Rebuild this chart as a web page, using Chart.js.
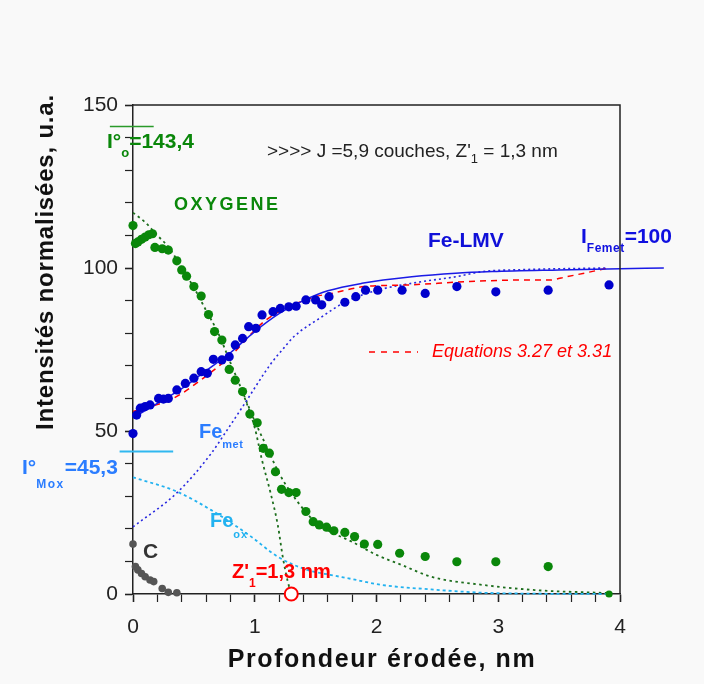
<!DOCTYPE html>
<html>
<head>
<meta charset="utf-8">
<script src="https://cdn.jsdelivr.net/npm/chart.js@4.4.0/dist/chart.umd.min.js"></script>
<style>
  html, body { margin: 0; padding: 0; background: #f9f9f9; }
  #c { display: block; }
</style>
</head>
<body>
<canvas id="c" width="704" height="684"></canvas>
<script>
// --- mesures (points) ---
const oxX = [0, 0.02, 0.04, 0.07, 0.10, 0.13, 0.16, 0.18, 0.24, 0.29, 0.36, 0.40, 0.44, 0.50, 0.56, 0.62, 0.67, 0.73, 0.79, 0.84, 0.90, 0.96, 1.02, 1.07, 1.12, 1.17, 1.22, 1.28, 1.34, 1.42, 1.48, 1.53, 1.59, 1.65, 1.74, 1.82, 1.90, 2.01, 2.19, 2.40, 2.66, 2.98, 3.41, 3.91];
const oxY = [113, 107.5, 108, 108.8, 109.5, 110.2, 110.5, 106.3, 105.9, 105.5, 102.2, 99.4, 97.5, 94.3, 91.4, 85.7, 80.5, 77.9, 68.9, 65.6, 62.1, 55.2, 52.5, 44.7, 43.2, 37.5, 32.1, 31.1, 31.1, 25.3, 22.2, 21.2, 20.5, 19.4, 18.9, 17.6, 15.3, 15.2, 12.5, 11.5, 9.9, 9.9, 8.4, 0];

const feX = [0, 0.03, 0.06, 0.10, 0.14, 0.21, 0.25, 0.29, 0.36, 0.43, 0.50, 0.56, 0.61, 0.66, 0.73, 0.79, 0.84, 0.90, 0.95, 1.01, 1.06, 1.15, 1.21, 1.28, 1.34, 1.42, 1.50, 1.55, 1.61, 1.74, 1.83, 1.91, 2.01, 2.21, 2.40, 2.66, 2.98, 3.41, 3.91];
const feY = [49.2, 54.9, 57, 57.5, 58, 60, 59.8, 60, 62.6, 64.6, 66.2, 68.2, 67.7, 72, 71.8, 72.8, 76.4, 78.4, 82, 81.5, 85.6, 86.6, 87.6, 88.1, 88.3, 90.2, 90.2, 88.7, 91.2, 89.5, 91.2, 93.2, 93.2, 93.2, 92.2, 94.3, 92.7, 93.2, 94.8];

const cX = [0, 0.02, 0.04, 0.07, 0.10, 0.14, 0.17, 0.24, 0.29, 0.36];
const cY = [15.3, 8.4, 7.4, 6.3, 5.3, 4.3, 3.8, 1.7, 0.5, 0.4];

// --- courbes calculees ---
const oxModelX = [0, 0.1, 0.2, 0.3, 0.4, 0.5, 0.6, 0.7, 0.8, 0.9, 1.0, 1.1, 1.2, 1.3, 1.4, 1.5, 1.6, 1.8, 2.0, 2.2, 2.45, 2.87, 3.3, 3.9];
const oxModelY = [117, 114, 110, 106, 100, 94, 87, 80, 71, 62, 53, 45, 37, 31, 26, 22, 19.5, 16, 12, 9, 5.3, 2.8, 1.2, 0.3];
const oxSteepX = [0.9, 1.0, 1.06, 1.13, 1.19, 1.23, 1.27, 1.3];
const oxSteepY = [62, 51, 41, 31, 21, 11.4, 4, 0];

const feOxX = [0, 0.36, 0.64, 0.97, 1.19, 1.43, 1.63, 1.77, 2.04, 2.45, 2.87, 3.3, 3.9];
const feOxY = [35.8, 31.4, 25.8, 17.6, 11.4, 7.4, 5.8, 4.8, 2.8, 1.4, 0.4, 0.1, 0];

const feMetX = [0, 0.36, 0.64, 0.75, 0.91, 1.13, 1.24, 1.32, 1.55, 1.74, 2.01, 2.37, 2.65, 2.87, 3.2, 3.9];
const feMetY = [20.6, 31, 43, 49, 58, 70.5, 75.5, 78.9, 85, 89.5, 93.2, 95.8, 97.3, 98.9, 99.5, 100];

const feModelX = [0, 0.2, 0.4, 0.6, 0.8, 1.0, 1.2, 1.4, 1.6, 1.88, 2.29, 2.65, 2.95, 3.5, 3.9, 4.36];
const feModelY = [54, 58.5, 63, 68.5, 74, 80.5, 86, 90, 93, 95.3, 97.3, 98.4, 98.9, 99.4, 99.7, 100];

const eqX = [0, 0.33, 0.57, 0.8, 1.09, 1.48, 1.63, 1.9, 2.26, 2.73, 3.17, 3.42, 3.56, 3.83, 3.9];
const eqY = [56, 60, 66, 73, 84, 91, 92.2, 94.3, 94.8, 95.8, 96.3, 96.3, 97.3, 99.4, 100];

// niveaux de reference
const i0OxX = [-0.19, 0.17];
const i0OxY = [143.4, 143.4];
const i0MoxX = [-0.11, 0.33];
const i0MoxY = [43.7, 43.7];
const z1X = [1.3];
const z1Y = [0];

const xTicks = [0, 1, 2, 3, 4];
const yTicks = [0, 50, 100, 150];

const pts = (xs, ys) => xs.map((x, i) => ({ x: x, y: ys[i] }));

const GREEN = '#0a870a';
const BLUE = '#0000cc';
const LIGHTBLUE = '#2b7dff';
const CYAN = '#22b2f0';
const RED = '#ff0000';
const FONT = '"Liberation Sans", Arial, sans-serif';

function rich(ctx, x, y, parts) {
    let cx = x;
    for (const p of parts) {
        ctx.font = p.f;
        ctx.fillStyle = p.c;
        ctx.letterSpacing = p.ls || '0px';
        ctx.fillText(p.t, cx, y + (p.dy || 0));
        cx += ctx.measureText(p.t).width;
    }
    ctx.letterSpacing = '0px';
}

const annotations = {
    id: 'annotations',
    afterDraw(chart) {
        const ctx = chart.ctx;
        const a = chart.chartArea;
        ctx.save();
        // cadre haut / droite
        ctx.strokeStyle = '#222';
        ctx.lineWidth = 1.5;
        ctx.beginPath();
        ctx.moveTo(a.left, a.top);
        ctx.lineTo(a.right, a.top);
        ctx.lineTo(a.right, a.bottom);
        ctx.stroke();

        ctx.textBaseline = 'alphabetic';
        ctx.textAlign = 'left';
        const b21 = 'bold 21px ' + FONT;

        rich(ctx, 107, 148, [
            { t: 'I°', f: b21, c: GREEN },
            { t: 'o', f: 'bold 13px ' + FONT, c: GREEN, dy: 9 },
            { t: '=143,4', f: b21, c: GREEN }
        ]);
        rich(ctx, 267, 157, [
            { t: ">>>> J =5,9 couches, Z'", f: '19px ' + FONT, c: '#222' },
            { t: '1', f: '13px ' + FONT, c: '#222', dy: 6 },
            { t: ' = 1,3 nm', f: '19px ' + FONT, c: '#222' }
        ]);
        rich(ctx, 174, 210, [{ t: 'OXYGENE', f: 'bold 18px ' + FONT, c: GREEN, ls: '2.5px' }]);
        rich(ctx, 428, 247, [{ t: 'Fe-LMV', f: b21, c: '#1010d8' }]);
        rich(ctx, 581, 243, [
            { t: 'I', f: b21, c: '#1010e0' },
            { t: 'Femet', f: 'bold 12px ' + FONT, c: '#1010e0', dy: 9, ls: '0.5px' },
            { t: '=100', f: b21, c: '#1010e0' }
        ]);

        // legende "Equations"
        ctx.strokeStyle = RED;
        ctx.lineWidth = 1.5;
        ctx.setLineDash([6, 6]);
        ctx.beginPath();
        ctx.moveTo(369, 352);
        ctx.lineTo(418, 352);
        ctx.stroke();
        ctx.setLineDash([]);
        rich(ctx, 432, 357, [{ t: 'Equations 3.27 et 3.31', f: 'italic 18px ' + FONT, c: RED }]);

        rich(ctx, 199, 438, [
            { t: 'Fe', f: 'bold 20px ' + FONT, c: LIGHTBLUE },
            { t: 'met', f: 'bold 11px ' + FONT, c: LIGHTBLUE, dy: 10, ls: '0.5px' }
        ]);
        rich(ctx, 22, 474, [
            { t: 'I°', f: b21, c: LIGHTBLUE },
            { t: 'Mox', f: 'bold 12px ' + FONT, c: LIGHTBLUE, dy: 14, ls: '1.5px' },
            { t: '=45,3', f: b21, c: LIGHTBLUE }
        ]);
        rich(ctx, 210, 527, [
            { t: 'Fe', f: 'bold 20px ' + FONT, c: CYAN },
            { t: 'ox', f: 'bold 11px ' + FONT, c: CYAN, dy: 11, ls: '1px' }
        ]);
        rich(ctx, 143, 558, [{ t: 'C', f: 'bold 21px ' + FONT, c: '#333' }]);
        rich(ctx, 232, 578, [
            { t: "Z'", f: 'bold 20px ' + FONT, c: RED },
            { t: '1', f: 'bold 12px ' + FONT, c: RED, dy: 9 },
            { t: '=1,3 nm', f: 'bold 20px ' + FONT, c: RED }
        ]);

        // titres des axes
        ctx.fillStyle = '#111';
        ctx.textAlign = 'center';
        ctx.textBaseline = 'alphabetic';
        ctx.font = 'bold 25px ' + FONT;
        ctx.letterSpacing = '1.6px';
        ctx.fillText('Profondeur érodée, nm', 382, 667);
        ctx.translate(46, 262);
        ctx.rotate(-Math.PI / 2);
        ctx.textBaseline = 'middle';
        ctx.font = 'bold 24px ' + FONT;
        ctx.letterSpacing = '0.8px';
        ctx.fillText('Intensités normalisées, u.a.', 0, 0);
        ctx.restore();
    }
};

const curve = (data, color, dash, width) => ({
    data: data,
    showLine: true,
    borderColor: color,
    borderWidth: width,
    borderDash: dash,
    cubicInterpolationMode: 'monotone',
    pointRadius: 0,
    fill: false,
    clip: false
});

const ctx = document.getElementById('c').getContext('2d');
new Chart(ctx, {
    type: 'scatter',
    data: {
        datasets: [
            {
                data: pts(z1X, z1Y),
                pointRadius: 6.5,
                pointBackgroundColor: '#ffffff',
                pointBorderColor: RED,
                pointBorderWidth: 2,
                clip: false
            },
            {
                data: pts(feX, feY),
                pointRadius: 4.6,
                pointBackgroundColor: BLUE,
                pointBorderWidth: 0,
                clip: false
            },
            {
                data: pts(oxX, oxY),
                pointRadius: c => (c.dataIndex === oxX.length - 1 ? 3.6 : 4.6),
                pointBackgroundColor: GREEN,
                pointBorderWidth: 0,
                clip: false
            },
            {
                data: pts(cX, cY),
                pointRadius: 3.8,
                pointBackgroundColor: '#555555',
                pointBorderWidth: 0,
                clip: false
            },
            curve(pts(feModelX, feModelY), '#1a1ae6', [], 1.5),
            curve(pts(eqX, eqY), RED, [6, 5], 1.5),
            curve(pts(feMetX, feMetY), '#2828e0', [2, 3], 1.6),
            curve(pts(feOxX, feOxY), CYAN, [3, 3], 1.8),
            curve(pts(oxModelX, oxModelY), '#1d6e1d', [2.5, 3.5], 1.8),
            curve(pts(oxSteepX, oxSteepY), '#1d6e1d', [2.5, 3.5], 1.8),
            curve(pts(i0OxX, i0OxY), '#2a9a2a', [], 1.5),
            curve(pts(i0MoxX, i0MoxY), '#30b8f0', [], 2)
        ]
    },
    options: {
        responsive: false,
        animation: false,
        devicePixelRatio: 1,
        layout: {
            padding: { left: 0, top: 105, right: 84, bottom: 0 }
        },
        plugins: {
            legend: { display: false },
            tooltip: { enabled: false }
        },
        scales: {
            x: {
                type: 'linear',
                min: 0,
                max: 4,
                afterFit: s => { s.height = 90; },
                afterBuildTicks: s => {
                    s.ticks = [];
                    for (let i = 0; i <= 20; i++) s.ticks.push({ value: i * 0.2 });
                },
                border: { display: true, color: '#222', width: 1.5 },
                grid: {
                    drawOnChartArea: false,
                    drawTicks: true,
                    tickLength: 8,
                    tickColor: '#222',
                    tickWidth: c => (xTicks.includes(Math.round(c.tick.value * 1000) / 1000) ? 1.6 : 1.2)
                },
                ticks: {
                    autoSkip: false,
                    maxRotation: 0,
                    padding: 13,
                    color: '#222',
                    font: { family: FONT, size: 21 },
                    callback: v => {
                        const r = Math.round(v * 1000) / 1000;
                        return xTicks.includes(r) ? String(r) : '';
                    }
                }
            },
            y: {
                type: 'linear',
                min: 0,
                max: 150,
                afterFit: s => { s.width = 133; },
                afterBuildTicks: s => {
                    s.ticks = [];
                    for (let v = 0; v <= 150; v += 10) s.ticks.push({ value: v });
                },
                border: { display: true, color: '#222', width: 1.5 },
                grid: {
                    drawOnChartArea: false,
                    drawTicks: true,
                    tickLength: 8,
                    tickColor: '#222',
                    tickWidth: c => (yTicks.includes(c.tick.value) ? 1.6 : 1.2)
                },
                ticks: {
                    autoSkip: false,
                    padding: 7,
                    color: '#222',
                    font: { family: FONT, size: 21 },
                    callback: v => (yTicks.includes(v) ? String(v) : '')
                }
            }
        }
    },
    plugins: [annotations]
});
</script>
</body>
</html>
